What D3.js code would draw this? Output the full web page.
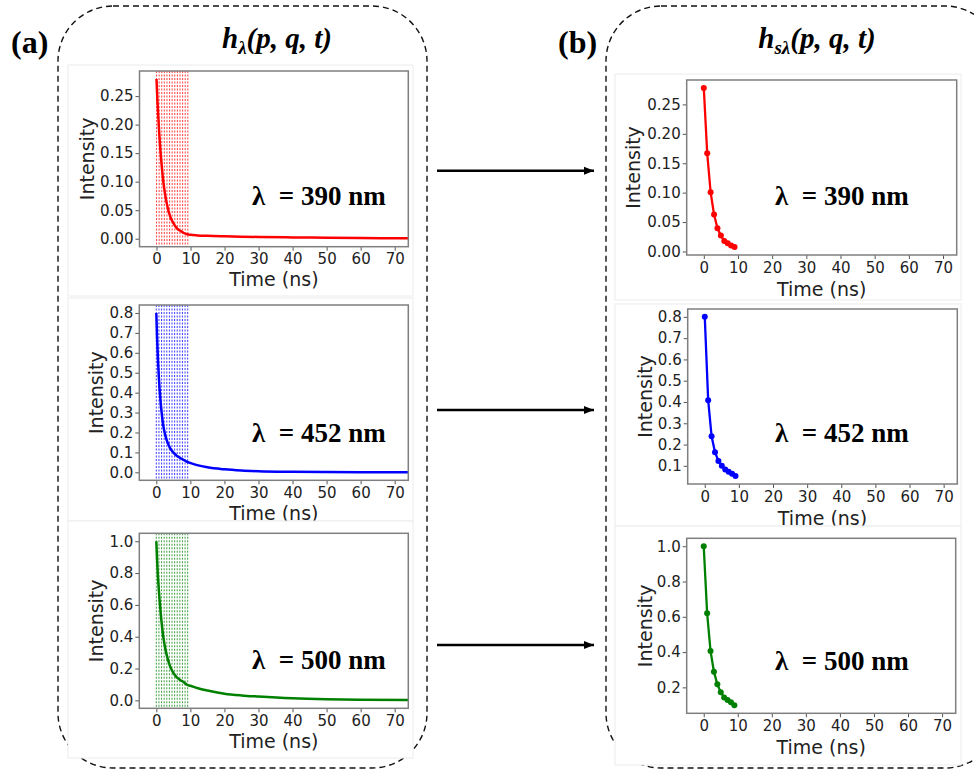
<!DOCTYPE html>
<html>
<head>
<meta charset="utf-8">
<script src="https://cdn.jsdelivr.net/npm/d3@7"></script>
<style>
  body { margin: 0; background: #fff; }
</style>
</head>
<body>
<div id="chart"></div>
<script>
// full decay curves h_lambda(p,q,t)
const curveTimes = [0, 0.25, 0.5, 0.75, 1, 1.5, 2, 2.5, 3, 4, 5, 6, 7, 8, 9, 10, 12, 15, 20, 25, 30, 40, 50, 60, 74];
const curve390 = [0.280, 0.245, 0.216, 0.190, 0.167, 0.130, 0.100, 0.079, 0.062, 0.039, 0.027, 0.018, 0.014, 0.010, 0.0078, 0.0068, 0.0058, 0.0050, 0.0042, 0.0036, 0.0031, 0.0023, 0.0017, 0.0012, 0.0008];
const curve452 = [0.80, 0.66, 0.56, 0.475, 0.408, 0.31, 0.239, 0.195, 0.164, 0.123, 0.100, 0.083, 0.072, 0.0625, 0.053, 0.047, 0.036, 0.025, 0.015, 0.009, 0.0055, 0.0025, 0.0012, 0.0006, 0.0003];
const curve500 = [1.0, 0.87, 0.77, 0.69, 0.62, 0.50, 0.406, 0.34, 0.289, 0.217, 0.172, 0.144, 0.128, 0.115, 0.098, 0.092, 0.078, 0.062, 0.042, 0.031, 0.024, 0.013, 0.007, 0.004, 0.002];

// dotted gate lines drawn over the curves in (a)
const gateTimes = [0, 0.77, 1.54, 2.3, 3.07, 3.84, 4.6, 5.37, 6.14, 6.9, 7.67, 8.44, 9.2];

// sampled points h_s_lambda(p,q,t), panel (b)
const sampleTimes = [0, 1, 2, 3, 4, 5, 6, 7, 8, 9];
const sample390 = [0.278, 0.167, 0.1007, 0.0628, 0.0396, 0.027, 0.018, 0.014, 0.010, 0.0074];
const sample452 = [0.80, 0.408, 0.239, 0.164, 0.123, 0.100, 0.083, 0.072, 0.0625, 0.052];
const sample500 = [1.0, 0.620, 0.406, 0.289, 0.217, 0.172, 0.143, 0.128, 0.115, 0.098];

const wavelengths = ["390", "452", "500"];
const colors = ["#ff0000", "#0000ff", "#008000"];

// tick labels
const xTicks = [0, 10, 20, 30, 40, 50, 60, 70];
const yTicksA = [
  [0, 0.05, 0.10, 0.15, 0.20, 0.25],
  [0, 0.1, 0.2, 0.3, 0.4, 0.5, 0.6, 0.7, 0.8],
  [0, 0.2, 0.4, 0.6, 0.8, 1.0]
];
const yTicksB = [
  [0, 0.05, 0.10, 0.15, 0.20, 0.25],
  [0.1, 0.2, 0.3, 0.4, 0.5, 0.6, 0.7, 0.8],
  [0.2, 0.4, 0.6, 0.8, 1.0]
];
const yFormats = [".2f", ".1f", ".1f"];

const curves = [curve390, curve452, curve500];
const samples = [sample390, sample452, sample500];

const width = 974;
const height = 772;

const svg = d3.select("#chart").append("svg")
  .attr("width", width)
  .attr("height", height)
  .style("font-family", "'DejaVu Sans', sans-serif");

// dashed rounded boxes
function roundedBox(x0, y0, x1, y1, r) {
  svg.append("rect")
    .attr("x", x0).attr("y", y0)
    .attr("width", x1 - x0).attr("height", y1 - y0)
    .attr("rx", r).attr("ry", r)
    .attr("fill", "none")
    .attr("stroke", "#111")
    .attr("stroke-width", 1.4)
    .attr("stroke-dasharray", "6,4");
}
roundedBox(58, 6, 427, 768, 55);
roundedBox(606, 6, 1000, 768, 55);

// panel labels and titles
svg.append("text").attr("x", 11).attr("y", 53)
  .style("font-family", "'Liberation Serif', serif").style("font-weight", "bold")
  .style("font-size", "32px").text("(a)");
svg.append("text").attr("x", 558).attr("y", 53)
  .style("font-family", "'Liberation Serif', serif").style("font-weight", "bold")
  .style("font-size", "32px").text("(b)");

function mathTitle(cx, sub) {
  const t = svg.append("text").attr("x", cx).attr("y", 48)
    .attr("text-anchor", "middle")
    .style("font-family", "'Liberation Serif', serif")
    .style("font-weight", "bold").style("font-style", "italic")
    .style("font-size", "29px");
  t.append("tspan").text("h");
  t.append("tspan").attr("dy", 6).style("font-size", "19px").text(sub);
  t.append("tspan").attr("dy", -6).text("(p, q, t)");
}
mathTitle(277, "λ");
mathTitle(817, "sλ");

// frames of each subplot (figure layout, in px)
const framesA = [
  {x0: 139.5, y0: 71, x1: 408.3, y1: 246.7, img: [68, 65, 413, 296], yl: 87, lam: 205, yDomain: [-0.014, 0.294]},
  {x0: 139.3, y0: 305, x1: 408.3, y1: 480.3, img: [68, 298, 413, 521], yl: 95.5, lam: 441.7, yDomain: [-0.04, 0.84]},
  {x0: 139.3, y0: 533.3, x1: 408.3, y1: 708.3, img: [68, 521, 413, 758], yl: 95.5, lam: 669, yDomain: [-0.05, 1.05]}
];
const framesB = [
  {x0: 686.7, y0: 80, x1: 956.7, y1: 255, img: [615, 74, 961, 300], yl: 632.5, lam: 205, yDomain: [-0.006, 0.2915]},
  {x0: 687.7, y0: 309, x1: 957.3, y1: 484, img: [615, 304, 961, 526], yl: 644.5, lam: 441.7, yDomain: [0.0146, 0.837]},
  {x0: 686.7, y0: 538.3, x1: 955.7, y1: 713.3, img: [615, 526, 961, 765], yl: 644.5, lam: 670, yDomain: [0.053, 1.045]}
];

let clipId = 0;

function drawPanel(f, i, sampled) {
  const g = svg.append("g");
  const color = colors[i];

  // white image background (covers the label of the panel above)
  g.append("rect")
    .attr("x", f.img[0]).attr("y", f.img[1])
    .attr("width", f.img[2] - f.img[0]).attr("height", f.img[3] - f.img[1])
    .attr("fill", "#fff").attr("stroke", "#ececec").attr("stroke-width", 1);

  const xScale = d3.scaleLinear().domain([-5, 74]).range([f.x0, f.x1]);
  const yScale = d3.scaleLinear().domain(f.yDomain).range([f.y1, f.y0]);

  const id = "clip" + (clipId++);
  g.append("clipPath").attr("id", id)
    .append("rect")
    .attr("x", f.x0).attr("y", f.y0)
    .attr("width", f.x1 - f.x0).attr("height", f.y1 - f.y0);

  const plot = g.append("g").attr("clip-path", `url(#${id})`);

  const line = d3.line()
    .x(d => xScale(d[0]))
    .y(d => yScale(d[1]));

  if (!sampled) {
    // dotted gate lines
    plot.selectAll("line.gate")
      .data(gateTimes)
      .enter()
      .append("line")
      .attr("class", "gate")
      .attr("x1", d => xScale(d)).attr("x2", d => xScale(d))
      .attr("y1", f.y0).attr("y2", f.y1)
      .attr("stroke", color)
      .attr("stroke-opacity", 0.7)
      .attr("stroke-width", 1.1)
      .attr("stroke-dasharray", "2,1.5");

    const pts = curveTimes.map((t, k) => [t, curves[i][k]]);
    plot.append("path")
      .datum(pts)
      .attr("d", line.curve(d3.curveMonotoneX))
      .attr("fill", "none")
      .attr("stroke", color)
      .attr("stroke-width", 2.5);
  } else {
    const pts = sampleTimes.map((t, k) => [t, samples[i][k]]);
    plot.append("path")
      .datum(pts)
      .attr("d", line)
      .attr("fill", "none")
      .attr("stroke", color)
      .attr("stroke-width", 2.3);
    plot.selectAll("circle")
      .data(pts)
      .enter()
      .append("circle")
      .attr("cx", d => xScale(d[0]))
      .attr("cy", d => yScale(d[1]))
      .attr("r", 3)
      .attr("fill", color);
  }

  // axes
  const yTicks = sampled ? yTicksB[i] : yTicksA[i];
  const xAxis = d3.axisBottom(xScale).tickValues(xTicks).tickSize(4).tickPadding(3);
  const yAxis = d3.axisLeft(yScale).tickValues(yTicks).tickFormat(d3.format(yFormats[i])).tickSize(4).tickPadding(2);

  const gx = g.append("g")
    .attr("transform", `translate(0, ${f.y1})`)
    .call(xAxis);
  const gy = g.append("g")
    .attr("transform", `translate(${f.x0}, 0)`)
    .call(yAxis);
  [gx, gy].forEach(a => {
    a.select(".domain").remove();
    a.selectAll(".tick line").attr("stroke", "#555").attr("stroke-width", 1);
    a.selectAll(".tick text")
      .attr("fill", "#222")
      .style("font-family", "'DejaVu Sans', sans-serif")
      .style("font-size", "15px");
  });

  // frame
  g.append("rect")
    .attr("x", f.x0).attr("y", f.y0)
    .attr("width", f.x1 - f.x0).attr("height", f.y1 - f.y0)
    .attr("fill", "none").attr("stroke", "#7f7f7f").attr("stroke-width", 1.5);

  // axis labels
  g.append("text")
    .attr("x", (f.x0 + f.x1) / 2)
    .attr("y", f.y1 + (sampled ? 41 : 39.5))
    .attr("text-anchor", "middle")
    .attr("fill", "#222")
    .style("font-size", "19px")
    .text("Time (ns)");
  g.append("text")
    .attr("transform", `translate(${f.yl}, ${(f.y0 + f.y1) / 2}) rotate(-90)`)
    .attr("text-anchor", "middle")
    .attr("dominant-baseline", "central")
    .attr("fill", "#222")
    .style("font-size", "19px")
    .text("Intensity");

  // wavelength annotation
  g.append("text")
    .attr("x", sampled ? 775 : 252)
    .attr("y", f.lam)
    .attr("fill", "#000")
    .style("font-family", "'Liberation Serif', serif")
    .style("font-weight", "bold")
    .style("font-size", "27px")
    .text("λ\u00a0 = " + wavelengths[i] + " nm");
}

framesA.forEach((f, i) => drawPanel(f, i, false));
framesB.forEach((f, i) => drawPanel(f, i, true));

// arrows between (a) and (b)
const arrowRows = [170.7, 410, 645];
svg.append("defs").append("marker")
  .attr("id", "arrowhead")
  .attr("viewBox", "0 0 10 10")
  .attr("refX", 10).attr("refY", 5)
  .attr("markerWidth", 4).attr("markerHeight", 4)
  .attr("orient", "auto")
  .append("path").attr("d", "M0,1 L10,5 L0,9 Z").attr("fill", "#000");
svg.selectAll("line.arrow")
  .data(arrowRows)
  .enter()
  .append("line")
  .attr("class", "arrow")
  .attr("x1", 437).attr("x2", 594)
  .attr("y1", d => d).attr("y2", d => d)
  .attr("stroke", "#000")
  .attr("stroke-width", 2.5)
  .attr("marker-end", "url(#arrowhead)");
</script>
</body>
</html>
